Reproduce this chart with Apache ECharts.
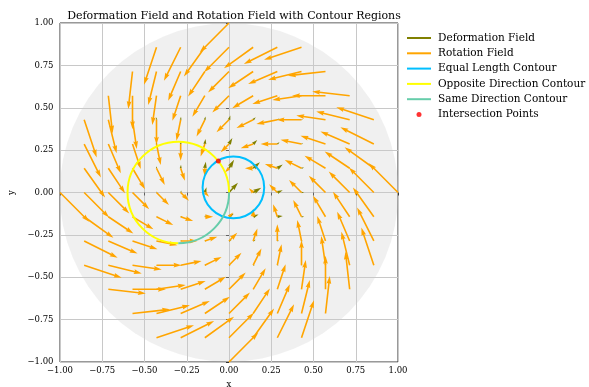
<!DOCTYPE html>
<html><head><meta charset="utf-8">
<script src="https://cdn.jsdelivr.net/npm/echarts@6/dist/echarts.min.js"></script>
<style>html,body{margin:0;padding:0;background:#fff}#c{width:589px;height:387px}</style>
</head><body><div id="c"></div>
<script>
const N = null;
// grid positions (15 x 15), rows listed from top (y=1) to bottom (y=-1)
const gridX = [-1, -0.857, -0.714, -0.571, -0.429, -0.286, -0.143, 0, 0.143, 0.286, 0.429, 0.571, 0.714, 0.857, 1];
const gridY = [1, 0.857, 0.714, 0.571, 0.429, 0.286, 0.143, 0, -0.143, -0.286, -0.429, -0.571, -0.714, -0.857, -1];

// Rotation field (orange)
const rotU = [
  [N,N,N,N,N,N,N,-0.173,N,N,N,N,N,N,N],
  [N,N,N,N,-0.074,-0.099,-0.124,-0.148,-0.173,-0.198,-0.222,N,N,N,N],
  [N,N,N,-0.025,-0.049,-0.074,-0.099,-0.124,-0.148,-0.173,-0.198,-0.222,N,N,N],
  [N,N,0.025,0,-0.025,-0.049,-0.074,-0.099,-0.124,-0.148,-0.173,-0.198,-0.222,N,N],
  [N,0.074,0.049,0.025,0,-0.025,-0.049,-0.074,-0.099,-0.124,-0.148,-0.173,-0.198,-0.222,N],
  [N,0.099,0.074,0.049,0.025,0,-0.025,-0.049,-0.074,-0.099,-0.124,-0.148,-0.173,-0.198,N],
  [N,0.124,0.099,0.074,0.049,0.025,0,-0.025,-0.049,-0.074,-0.099,-0.124,-0.148,-0.173,N],
  [0.173,0.148,0.124,0.099,0.074,0.049,0.025,0,-0.025,-0.049,-0.074,-0.099,-0.124,-0.148,-0.173],
  [N,0.173,0.148,0.124,0.099,0.074,0.049,0.025,0,-0.025,-0.049,-0.074,-0.099,-0.124,N],
  [N,0.198,0.173,0.148,0.124,0.099,0.074,0.049,0.025,0,-0.025,-0.049,-0.074,-0.099,N],
  [N,0.222,0.198,0.173,0.148,0.124,0.099,0.074,0.049,0.025,0,-0.025,-0.049,-0.074,N],
  [N,N,0.222,0.198,0.173,0.148,0.124,0.099,0.074,0.049,0.025,0,-0.025,N,N],
  [N,N,N,0.222,0.198,0.173,0.148,0.124,0.099,0.074,0.049,0.025,N,N,N],
  [N,N,N,N,0.222,0.198,0.173,0.148,0.124,0.099,0.074,N,N,N,N],
  [N,N,N,N,N,N,N,0.173,N,N,N,N,N,N,N]
];
const rotV = [
  [N,N,N,N,N,N,N,-0.173,N,N,N,N,N,N,N],
  [N,N,N,N,-0.222,-0.198,-0.173,-0.148,-0.124,-0.099,-0.074,N,N,N,N],
  [N,N,N,-0.222,-0.198,-0.173,-0.148,-0.124,-0.099,-0.074,-0.049,-0.025,N,N,N],
  [N,N,-0.222,-0.198,-0.173,-0.148,-0.124,-0.099,-0.074,-0.049,-0.025,0,0.025,N,N],
  [N,-0.222,-0.198,-0.173,-0.148,-0.124,-0.099,-0.074,-0.049,-0.025,0,0.025,0.049,0.074,N],
  [N,-0.198,-0.173,-0.148,-0.124,-0.099,-0.074,-0.049,-0.025,0,0.025,0.049,0.074,0.099,N],
  [N,-0.173,-0.148,-0.124,-0.099,-0.074,-0.049,-0.025,0,0.025,0.049,0.074,0.099,0.124,N],
  [-0.173,-0.148,-0.124,-0.099,-0.074,-0.049,-0.025,0,0.025,0.049,0.074,0.099,0.124,0.148,0.173],
  [N,-0.124,-0.099,-0.074,-0.049,-0.025,0,0.025,0.049,0.074,0.099,0.124,0.148,0.173,N],
  [N,-0.099,-0.074,-0.049,-0.025,0,0.025,0.049,0.074,0.099,0.124,0.148,0.173,0.198,N],
  [N,-0.074,-0.049,-0.025,0,0.025,0.049,0.074,0.099,0.124,0.148,0.173,0.198,0.222,N],
  [N,N,-0.025,0,0.025,0.049,0.074,0.099,0.124,0.148,0.173,0.198,0.222,N,N],
  [N,N,N,0.025,0.049,0.074,0.099,0.124,0.148,0.173,0.198,0.222,N,N,N],
  [N,N,N,N,0.074,0.099,0.124,0.148,0.173,0.198,0.222,N,N,N,N],
  [N,N,N,N,N,N,N,0.173,N,N,N,N,N,N,N]
];

// Deformation field (olive): visible only near the centre
const defX = [-0.429, -0.286, -0.143, 0, 0.143, 0.286, 0.429];
const defY = [0.429, 0.286, 0.143, 0, -0.143, -0.286, -0.429];
const defU = [
  [0.000,0.002,0.004,0.008,0.015,0.012,0.008],
  [0.000,0.003,0.004,0.020,0.024,0.013,0.010],
  [0.000,0.002,0.006,0.030,0.040,0.032,0.015],
  [0.003,0.005,0.010,0.053,0.048,0.032,0.016],
  [0.005,0.010,0.015,0.028,0.032,0.032,0.016],
  [0.005,0.008,0.012,0.015,0.015,0.010,0.008],
  [0.004,0.006,0.008,0.010,0.010,0.008,0.006]
];
const defV = [
  [0.015,0.018,0.020,0.026,0.015,0.008,0.004],
  [0.015,0.018,0.030,0.035,0.024,0.010,0.004],
  [0.012,0.020,0.038,0.050,0.035,0.022,0.004],
  [0.006,0.012,0.031,0.058,0.028,0.013,0.002],
  [0.002,0.003,0.010,0.018,0.013,0.004,0.000],
  [0.000,0.002,0.003,0.005,0.007,0.001,0.000],
  [0.000,0.000,0.000,0.002,0.001,0.000,0.000]
];

// contours (centre x, centre y, radius) and arcs in degrees
const equalCircle = [0.026, 0.03, 0.182];
const directionCircle = [-0.3, 0, 0.3];
const oppositeArc = [0, 270];
const sameArc = [270, 360];
const intersection = [[-0.063, 0.186]];
const regionDisk = [0, 0, 1];

function fieldData(xs, ys, U, V) {
  const out = [];
  for (let r = 0; r < ys.length; r++) for (let c = 0; c < xs.length; c++) {
    if (U[r][c] === null) continue;
    out.push([xs[c], ys[r], U[r][c], V[r][c]]);
  }
  return out;
}

const SHAFT = 1.6;
function arrowRender(color) {
  return function (params, api) {
    const x = api.value(0), y = api.value(1), u = api.value(2), v = api.value(3);
    const p0 = api.coord([x, y]), p1 = api.coord([x + u, y + v]);
    const dx = p1[0] - p0[0], dy = p1[1] - p0[1];
    const L = Math.hypot(dx, dy);
    if (L < 0.6) return null;
    const ux = dx / L, uy = dy / L, nx = -uy, ny = ux;
    const hl0 = 5 * SHAFT;
    const s = L < hl0 ? L / hl0 : 1;
    const W = SHAFT * s / 2, HL = hl0 * s, HAL = 4.5 * SHAFT * s, HW = 3 * SHAFT * s / 2;
    const P = (a, b) => [p0[0] + ux * a + nx * b, p0[1] + uy * a + ny * b];
    const pts = [P(0, -W), P(L - HAL, -W), P(L - HL, -HW), P(L, 0), P(L - HL, HW), P(L - HAL, W), P(0, W)];
    return { type: 'polygon', shape: { points: pts }, style: { fill: color, stroke: null } };
  };
}

function arcRender(circle, arcDeg, color, width) {
  return function (params, api) {
    const c = api.coord([circle[0], circle[1]]);
    const r = api.size([circle[2], circle[2]]);
    const rad = (r[0] + r[1]) / 2;
    const a0 = -arcDeg[1] * Math.PI / 180, a1 = -arcDeg[0] * Math.PI / 180;
    return { type: 'arc', shape: { cx: c[0], cy: c[1], r: rad, startAngle: a0, endAngle: a1, clockwise: true },
      style: { stroke: color, lineWidth: width, fill: null } };
  };
}

const FONT = 'DejaVu Serif';
const fmt = v => (v < 0 ? '\u2212' : '') + Math.abs(v).toFixed(2);
const LINE_ICON = 'path://M0,0L24,0L24,2L0,2Z';

const chart = echarts.init(document.getElementById('c'), null, { renderer: 'canvas' });
chart.setOption({
  animation: false,
  backgroundColor: '#ffffff',
  title: {
    text: 'Deformation Field and Rotation Field with Contour Regions',
    left: 229, top: 6, textAlign: 'center',
    textStyle: { fontFamily: FONT, fontSize: 11, fontWeight: 'normal', color: '#000' }
  },
  legend: {
    orient: 'vertical', left: 407, top: 32, padding: 0, itemWidth: 24, itemHeight: 5, itemGap: 3.3,
    selectedMode: false, symbolKeepAspect: true,
    textStyle: { fontFamily: FONT, fontSize: 10.5, lineHeight: 12, color: '#000', padding: [0, 0, 0, 2] },
    data: [
      { name: 'Deformation Field', icon: LINE_ICON, itemStyle: { color: '#808000' } },
      { name: 'Rotation Field', icon: LINE_ICON, itemStyle: { color: '#ffa500' } },
      { name: 'Equal Length Contour', icon: LINE_ICON, itemStyle: { color: '#00bfff' } },
      { name: 'Opposite Direction Contour', icon: LINE_ICON, itemStyle: { color: '#ffff00' } },
      { name: 'Same Direction Contour', icon: LINE_ICON, itemStyle: { color: '#66cdaa' } },
      { name: 'Intersection Points', icon: 'circle', itemStyle: { color: '#ff0000' } }
    ]
  },
  grid: { left: 60, top: 23, width: 338, height: 339, outerBoundsMode: 'none', containLabel: false,
    show: true, borderColor: '#333', borderWidth: 1, backgroundColor: 'transparent' },
  xAxis: {
    type: 'value', min: -1, max: 1, interval: 0.25,
    name: 'x', nameLocation: 'middle', nameGap: 18,
    nameTextStyle: { fontFamily: FONT, fontSize: 8.5, color: '#000' },
    axisLine: { show: false },
    axisTick: { show: true, length: 3, lineStyle: { color: '#333' } },
    axisLabel: { fontFamily: FONT, fontSize: 8.5, color: '#000', margin: 4, formatter: fmt },
    splitLine: { show: true, lineStyle: { color: '#c8c8c8', width: 1 } }
  },
  yAxis: {
    type: 'value', min: -1, max: 1, interval: 0.25,
    name: 'y', nameLocation: 'middle', nameGap: 44, nameRotate: 90,
    nameTextStyle: { fontFamily: FONT, fontSize: 8.5, color: '#000' },
    axisLine: { show: false },
    axisTick: { show: true, length: 3, lineStyle: { color: '#333' } },
    axisLabel: { fontFamily: FONT, fontSize: 8.5, color: '#000', margin: 6.5, formatter: fmt },
    splitLine: { show: true, lineStyle: { color: '#c8c8c8', width: 1 } }
  },
  series: [
    { type: 'custom', name: 'region', z: 1, silent: true, data: [regionDisk],
      renderItem: function (params, api) {
        const c = api.coord([api.value(0), api.value(1)]);
        const r = api.size([api.value(2), api.value(2)]);
        return { type: 'circle', shape: { cx: c[0], cy: c[1], r: (r[0] + r[1]) / 2 }, style: { fill: 'rgba(205,205,205,0.3)' } };
      } },
    { type: 'custom', name: 'Deformation Field', z: 2, itemStyle: { color: '#808000' },
      data: fieldData(defX, defY, defU, defV), renderItem: arrowRender('#808000') },
    { type: 'custom', name: 'Rotation Field', z: 3, itemStyle: { color: '#ffa500' },
      data: fieldData(gridX, gridY, rotU, rotV), renderItem: arrowRender('#ffa500') },
    { type: 'custom', name: 'Equal Length Contour', z: 4, itemStyle: { color: '#00bfff' },
      data: [equalCircle], renderItem: arcRender(equalCircle, [0, 360], '#00bfff', 2) },
    { type: 'custom', name: 'Opposite Direction Contour', z: 4, itemStyle: { color: '#ffff00' },
      data: [directionCircle], renderItem: arcRender(directionCircle, oppositeArc, '#ffff00', 2) },
    { type: 'custom', name: 'Same Direction Contour', z: 4, itemStyle: { color: '#66cdaa' },
      data: [directionCircle], renderItem: arcRender(directionCircle, sameArc, '#66cdaa', 2) },
    { type: 'scatter', name: 'Intersection Points', z: 5, symbolSize: 5, itemStyle: { color: '#ff0000' }, data: intersection }
  ]
});
</script></body></html>
